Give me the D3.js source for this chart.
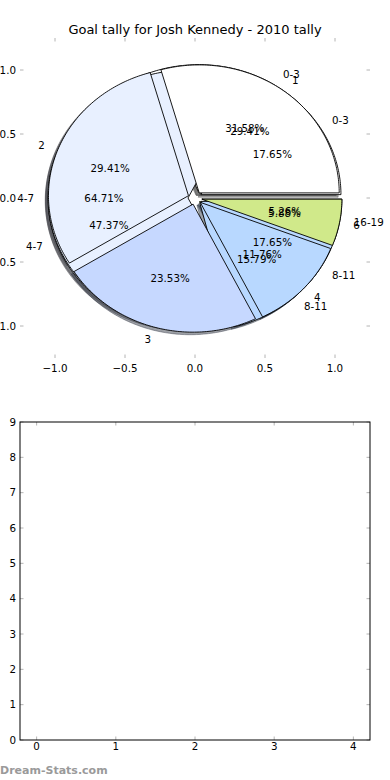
<!DOCTYPE html>
<html>
<head>
<meta charset="utf-8">
<script src="https://cdn.jsdelivr.net/npm/d3@7"></script>
<style>
  html, body { margin: 0; padding: 0; background: #ffffff; }
  svg { display: block; }
  text { font-family: "DejaVu Sans", sans-serif; }
</style>
</head>
<body>
<div id="chart"></div>
<script>
// ---------- data ----------
const titleText = "Goal tally for Josh Kennedy - 2010 tally";

// pie drawn on top (goals per game)
const pieLabelsA = ["1", "2", "3", "4", "6"];
const pieValuesA = [5, 5, 4, 2, 1];
const pieColorsA = ["#ffffff", "#e8f0ff", "#c6d8ff", "#b8d8ff", "#d0e98a"];

// middle pie (ranges)
const pieLabelsB = ["0-3", "4-7", "8-11"];
const pieValuesB = [3, 11, 3];
const pieColorsB = ["#ffffff", "#e8f0ff", "#b8d8ff"];

// bottom pie (ranges)
const pieLabelsC = ["0-3", "4-7", "8-11", "16-19"];
const pieValuesC = [6, 9, 3, 1];
const pieColorsC = ["#ffffff", "#e8f0ff", "#b8d8ff", "#d0e98a"];

const pieXTicks = [-1.0, -0.5, 0.0, 0.5, 1.0];
const pieYTicks = [-1.0, -0.5, 0.0, 0.5, 1.0];

const lowerXTicks = [0, 1, 2, 3, 4];
const lowerYTicks = [0, 1, 2, 3, 4, 5, 6, 7, 8, 9];

const watermark = "Dream-Stats.com";

// ---------- layout ----------
const W = 390, H = 780;
const svg = d3.select("#chart").append("svg").attr("width", W).attr("height", H);

const explode = 0.05, labelDist = 1.1, pctDist = 0.6, shadowOff = -0.02;
const fs = 10.3;
const tickColor = "#b4b4b4";
const fmtTick = v => d3.format(".1f")(v).replace("-", "\u2212");

// top axes (pie)
const px = d3.scaleLinear().domain([-1.25, 1.25]).range([20, 370]);
const py = d3.scaleLinear().domain([-1.25, 1.25]).range([358, 38]);

const gPie = svg.append("g");

function wedgePoints(cx, cy, a1, a2) {
  const pts = [[cx, cy]];
  const n = Math.max(8, Math.ceil((a2 - a1) / 1));
  for (let i = 0; i <= n; i++) {
    const a = (a1 + (a2 - a1) * i / n) * Math.PI / 180;
    pts.push([cx + Math.cos(a), cy + Math.sin(a)]);
  }
  pts.push([cx, cy]);
  return pts;
}
const line = d3.line().x(d => px(d[0])).y(d => py(d[1]));

function buildPie(values, labels, colors) {
  const total = d3.sum(values);
  let t1 = 0;
  return values.map((v, i) => {
    const frac = v / total;
    const t2 = t1 + frac;
    const mid = Math.PI * (t1 + t2);
    const cx = explode * Math.cos(mid), cy = explode * Math.sin(mid);
    const w = {
      a1: 360 * t1, a2: 360 * t2, cx, cy, mid,
      color: colors[i % colors.length],
      label: labels[i],
      pct: d3.format(".2f")(100 * frac) + "%"
    };
    t1 = t2;
    return w;
  });
}

const pies = [
  buildPie(pieValuesC, pieLabelsC, pieColorsC),
  buildPie(pieValuesB, pieLabelsB, pieColorsB),
  buildPie(pieValuesA, pieLabelsA, pieColorsA)
];

function darken(c) {
  const r = d3.rgb(c);
  return d3.rgb(r.r * 0.3, r.g * 0.3, r.b * 0.3).toString();
}

// shadows first (lower zorder)
pies.forEach(p => p.forEach(w => {
  gPie.append("path")
    .attr("d", line(wedgePoints(w.cx + shadowOff, w.cy + shadowOff, w.a1, w.a2)))
    .attr("fill", darken(w.color)).attr("fill-opacity", 0.5)
    .attr("stroke", darken(w.color)).attr("stroke-opacity", 0.5)
    .attr("stroke-width", 0.9).attr("stroke-linejoin", "miter");
}));
// wedges
pies.forEach(p => p.forEach(w => {
  gPie.append("path")
    .attr("d", line(wedgePoints(w.cx, w.cy, w.a1, w.a2)))
    .attr("fill", w.color)
    .attr("stroke", "#000").attr("stroke-width", 0.9).attr("stroke-linejoin", "miter");
}));
// texts
pies.forEach(p => p.forEach(w => {
  const xt = w.cx + labelDist * Math.cos(w.mid);
  const yt = w.cy + labelDist * Math.sin(w.mid);
  gPie.append("text")
    .attr("x", px(xt)).attr("y", py(yt)).attr("dy", "0.36em")
    .attr("text-anchor", xt > 0 ? "start" : "end")
    .attr("font-size", fs).attr("fill", "#000").text(w.label);
  const xp = w.cx + pctDist * Math.cos(w.mid);
  const yp = w.cy + pctDist * Math.sin(w.mid);
  gPie.append("text")
    .attr("x", px(xp)).attr("y", py(yp)).attr("dy", "0.36em")
    .attr("text-anchor", "middle")
    .attr("font-size", fs).attr("fill", "#000").text(w.pct);
}));

// pie axes ticks (no spines)
const gT = svg.append("g");
const tl = 3.5;
pieXTicks.forEach(v => {
  gT.append("line").attr("x1", px(v)).attr("x2", px(v)).attr("y1", py(-1.25)).attr("y2", py(-1.25) - tl)
    .attr("stroke", tickColor).attr("stroke-width", 1);
  gT.append("line").attr("x1", px(v)).attr("x2", px(v)).attr("y1", py(1.25)).attr("y2", py(1.25) + tl)
    .attr("stroke", tickColor).attr("stroke-width", 1);
  gT.append("text").attr("x", px(v)).attr("y", py(-1.25) + 7).attr("dy", "0.71em")
    .attr("text-anchor", "middle").attr("font-size", fs).text(fmtTick(v));
});
pieYTicks.forEach(v => {
  gT.append("line").attr("x1", px(-1.25)).attr("x2", px(-1.25) + tl).attr("y1", py(v)).attr("y2", py(v))
    .attr("stroke", tickColor).attr("stroke-width", 1);
  gT.append("line").attr("x1", px(1.25)).attr("x2", px(1.25) - tl).attr("y1", py(v)).attr("y2", py(v))
    .attr("stroke", tickColor).attr("stroke-width", 1);
  gT.append("text").attr("x", px(-1.25) - 4).attr("y", py(v)).attr("dy", "0.36em")
    .attr("text-anchor", "end").attr("font-size", fs).text(fmtTick(v));
});

svg.append("text").attr("x", (px(-1.25) + px(1.25)) / 2).attr("y", 34)
  .attr("text-anchor", "middle").attr("font-size", 13).attr("fill", "#000").text(titleText);

// ---------- lower empty axes ----------
const lx = d3.scaleLinear().domain([-0.21, 4.21]).range([20, 370]);
const ly = d3.scaleLinear().domain([0, 9]).range([740, 422]);
const gL = svg.append("g");
lowerXTicks.forEach(v => {
  gL.append("line").attr("x1", lx(v)).attr("x2", lx(v)).attr("y1", ly(0)).attr("y2", ly(0) - tl)
    .attr("stroke", tickColor).attr("stroke-width", 1);
  gL.append("line").attr("x1", lx(v)).attr("x2", lx(v)).attr("y1", ly(9)).attr("y2", ly(9) + tl)
    .attr("stroke", tickColor).attr("stroke-width", 1);
  gL.append("text").attr("x", lx(v)).attr("y", ly(0) + 3).attr("dy", "0.71em")
    .attr("text-anchor", "middle").attr("font-size", fs).text(String(v));
});
lowerYTicks.forEach(v => {
  gL.append("line").attr("x1", lx(-0.21)).attr("x2", lx(-0.21) + tl).attr("y1", ly(v)).attr("y2", ly(v))
    .attr("stroke", tickColor).attr("stroke-width", 1);
  gL.append("line").attr("x1", lx(4.21)).attr("x2", lx(4.21) - tl).attr("y1", ly(v)).attr("y2", ly(v))
    .attr("stroke", tickColor).attr("stroke-width", 1);
  gL.append("text").attr("x", lx(-0.21) - 4).attr("y", ly(v)).attr("dy", "0.36em")
    .attr("text-anchor", "end").attr("font-size", fs).text(String(v));
});
gL.append("rect").attr("x", lx(-0.21)).attr("y", ly(9)).attr("width", lx(4.21) - lx(-0.21))
  .attr("height", ly(0) - ly(9)).attr("fill", "none").attr("stroke", "#000").attr("stroke-width", 1);

svg.append("text").attr("x", 0).attr("y", 774).attr("font-size", 11).attr("font-weight", "bold")
  .attr("fill", "#9a9a9a").text(watermark);
</script>
</body>
</html>
